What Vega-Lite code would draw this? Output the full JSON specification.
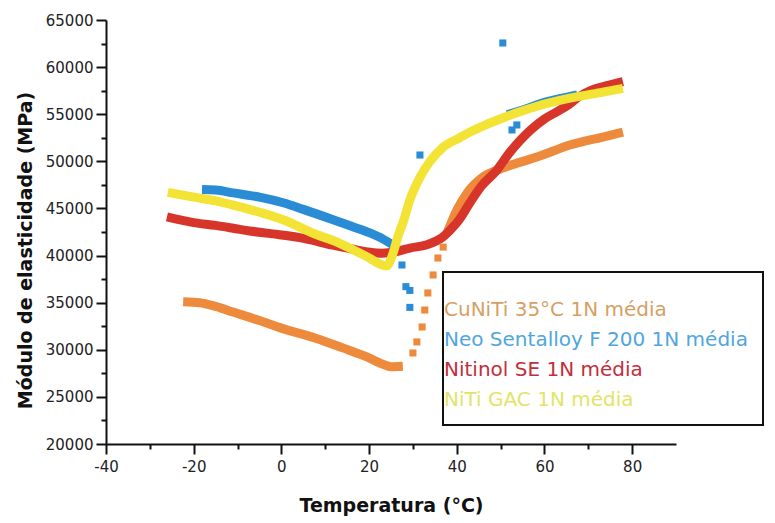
{
  "$schema": "https://vega.github.io/schema/vega-lite/v6.json",
  "width": 570,
  "height": 424,
  "autosize": {"type": "none"},
  "padding": {"left": 106, "top": 20, "right": 99, "bottom": 79},
  "background": "white",
  "config": {
    "view": {"stroke": null},
    "font": "DejaVu Sans"
  },
  "data": {
    "values": [
      {"series": "CuNiTi 35°C 1N média", "seg": "o1", "kind": "curve", "t": -22.4, "E": 35100},
      {"series": "CuNiTi 35°C 1N média", "seg": "o1", "kind": "curve", "t": -18.6, "E": 35000},
      {"series": "CuNiTi 35°C 1N média", "seg": "o1", "kind": "curve", "t": -15, "E": 34600},
      {"series": "CuNiTi 35°C 1N média", "seg": "o1", "kind": "curve", "t": -11, "E": 34000},
      {"series": "CuNiTi 35°C 1N média", "seg": "o1", "kind": "curve", "t": -5, "E": 33100},
      {"series": "CuNiTi 35°C 1N média", "seg": "o1", "kind": "curve", "t": 0, "E": 32300},
      {"series": "CuNiTi 35°C 1N média", "seg": "o1", "kind": "curve", "t": 8, "E": 31200},
      {"series": "CuNiTi 35°C 1N média", "seg": "o1", "kind": "curve", "t": 14, "E": 30200},
      {"series": "CuNiTi 35°C 1N média", "seg": "o1", "kind": "curve", "t": 19.5, "E": 29250},
      {"series": "CuNiTi 35°C 1N média", "seg": "o1", "kind": "curve", "t": 23, "E": 28500},
      {"series": "CuNiTi 35°C 1N média", "seg": "o1", "kind": "curve", "t": 25, "E": 28200},
      {"series": "CuNiTi 35°C 1N média", "seg": "o1", "kind": "curve", "t": 27.7, "E": 28250},
      {"series": "CuNiTi 35°C 1N média", "seg": "o1", "kind": "point", "t": 30, "E": 29660},
      {"series": "CuNiTi 35°C 1N média", "seg": "o1", "kind": "point", "t": 30.9, "E": 30830},
      {"series": "CuNiTi 35°C 1N média", "seg": "o1", "kind": "point", "t": 32.1, "E": 32420},
      {"series": "CuNiTi 35°C 1N média", "seg": "o1", "kind": "point", "t": 32.7, "E": 34220},
      {"series": "CuNiTi 35°C 1N média", "seg": "o1", "kind": "point", "t": 33.4, "E": 36030},
      {"series": "CuNiTi 35°C 1N média", "seg": "o1", "kind": "point", "t": 34.6, "E": 37940},
      {"series": "CuNiTi 35°C 1N média", "seg": "o1", "kind": "point", "t": 35.7, "E": 39740},
      {"series": "CuNiTi 35°C 1N média", "seg": "o1", "kind": "point", "t": 36.9, "E": 40900},
      {"series": "CuNiTi 35°C 1N média", "seg": "o2", "kind": "curve", "t": 37.8, "E": 42400},
      {"series": "CuNiTi 35°C 1N média", "seg": "o2", "kind": "curve", "t": 40, "E": 44800},
      {"series": "CuNiTi 35°C 1N média", "seg": "o2", "kind": "curve", "t": 42.3, "E": 46600},
      {"series": "CuNiTi 35°C 1N média", "seg": "o2", "kind": "curve", "t": 46, "E": 48340},
      {"series": "CuNiTi 35°C 1N média", "seg": "o2", "kind": "curve", "t": 50, "E": 49200},
      {"series": "CuNiTi 35°C 1N média", "seg": "o2", "kind": "curve", "t": 53.7, "E": 49800},
      {"series": "CuNiTi 35°C 1N média", "seg": "o2", "kind": "curve", "t": 58.3, "E": 50460},
      {"series": "CuNiTi 35°C 1N média", "seg": "o2", "kind": "curve", "t": 65.8, "E": 51730},
      {"series": "CuNiTi 35°C 1N média", "seg": "o2", "kind": "curve", "t": 73.3, "E": 52580},
      {"series": "CuNiTi 35°C 1N média", "seg": "o2", "kind": "curve", "t": 77.9, "E": 53110},

      {"series": "Neo Sentalloy F 200 1N média", "seg": "b1", "kind": "curve", "t": -18.1, "E": 47000},
      {"series": "Neo Sentalloy F 200 1N média", "seg": "b1", "kind": "curve", "t": -15, "E": 46950},
      {"series": "Neo Sentalloy F 200 1N média", "seg": "b1", "kind": "curve", "t": -11, "E": 46650},
      {"series": "Neo Sentalloy F 200 1N média", "seg": "b1", "kind": "curve", "t": -5, "E": 46200},
      {"series": "Neo Sentalloy F 200 1N média", "seg": "b1", "kind": "curve", "t": 0.4, "E": 45600},
      {"series": "Neo Sentalloy F 200 1N média", "seg": "b1", "kind": "curve", "t": 5, "E": 44900},
      {"series": "Neo Sentalloy F 200 1N média", "seg": "b1", "kind": "curve", "t": 11.8, "E": 43800},
      {"series": "Neo Sentalloy F 200 1N média", "seg": "b1", "kind": "curve", "t": 16, "E": 43100},
      {"series": "Neo Sentalloy F 200 1N média", "seg": "b1", "kind": "curve", "t": 20.2, "E": 42400},
      {"series": "Neo Sentalloy F 200 1N média", "seg": "b1", "kind": "curve", "t": 23, "E": 41800},
      {"series": "Neo Sentalloy F 200 1N média", "seg": "b1", "kind": "curve", "t": 25.5, "E": 41100},
      {"series": "Neo Sentalloy F 200 1N média", "seg": "b1", "kind": "point", "t": 27.5, "E": 39000},
      {"series": "Neo Sentalloy F 200 1N média", "seg": "b1", "kind": "point", "t": 28.4, "E": 36700},
      {"series": "Neo Sentalloy F 200 1N média", "seg": "b1", "kind": "point", "t": 29.3, "E": 36300},
      {"series": "Neo Sentalloy F 200 1N média", "seg": "b1", "kind": "point", "t": 29.3, "E": 34500},
      {"series": "Neo Sentalloy F 200 1N média", "seg": "b1", "kind": "point", "t": 31.6, "E": 50670},
      {"series": "Neo Sentalloy F 200 1N média", "seg": "b1", "kind": "point", "t": 50.5, "E": 62560},
      {"series": "Neo Sentalloy F 200 1N média", "seg": "b1", "kind": "point", "t": 52.6, "E": 53330},
      {"series": "Neo Sentalloy F 200 1N média", "seg": "b1", "kind": "point", "t": 53.7, "E": 53860},
      {"series": "Neo Sentalloy F 200 1N média", "seg": "b2", "kind": "curve", "t": 51.5, "E": 54950},
      {"series": "Neo Sentalloy F 200 1N média", "seg": "b2", "kind": "curve", "t": 55, "E": 55450},
      {"series": "Neo Sentalloy F 200 1N média", "seg": "b2", "kind": "curve", "t": 60, "E": 56250},
      {"series": "Neo Sentalloy F 200 1N média", "seg": "b2", "kind": "curve", "t": 64, "E": 56700},
      {"series": "Neo Sentalloy F 200 1N média", "seg": "b2", "kind": "curve", "t": 67.5, "E": 57050},

      {"series": "Nitinol SE 1N média", "seg": "r1", "kind": "curve", "t": -26.1, "E": 44100},
      {"series": "Nitinol SE 1N média", "seg": "r1", "kind": "curve", "t": -20, "E": 43500},
      {"series": "Nitinol SE 1N média", "seg": "r1", "kind": "curve", "t": -15, "E": 43200},
      {"series": "Nitinol SE 1N média", "seg": "r1", "kind": "curve", "t": -11, "E": 42900},
      {"series": "Nitinol SE 1N média", "seg": "r1", "kind": "curve", "t": -7.2, "E": 42600},
      {"series": "Nitinol SE 1N média", "seg": "r1", "kind": "curve", "t": -2, "E": 42300},
      {"series": "Nitinol SE 1N média", "seg": "r1", "kind": "curve", "t": 4.2, "E": 41900},
      {"series": "Nitinol SE 1N média", "seg": "r1", "kind": "curve", "t": 11.8, "E": 41100},
      {"series": "Nitinol SE 1N média", "seg": "r1", "kind": "curve", "t": 16, "E": 40700},
      {"series": "Nitinol SE 1N média", "seg": "r1", "kind": "curve", "t": 20.2, "E": 40350},
      {"series": "Nitinol SE 1N média", "seg": "r1", "kind": "curve", "t": 23, "E": 40250},
      {"series": "Nitinol SE 1N média", "seg": "r1", "kind": "curve", "t": 26, "E": 40400},
      {"series": "Nitinol SE 1N média", "seg": "r1", "kind": "curve", "t": 29.3, "E": 40800},
      {"series": "Nitinol SE 1N média", "seg": "r1", "kind": "curve", "t": 33.2, "E": 41150},
      {"series": "Nitinol SE 1N média", "seg": "r1", "kind": "curve", "t": 36.9, "E": 42000},
      {"series": "Nitinol SE 1N média", "seg": "r1", "kind": "curve", "t": 38.5, "E": 42700},
      {"series": "Nitinol SE 1N média", "seg": "r1", "kind": "curve", "t": 40.7, "E": 43900},
      {"series": "Nitinol SE 1N média", "seg": "r1", "kind": "curve", "t": 43, "E": 45600},
      {"series": "Nitinol SE 1N média", "seg": "r1", "kind": "curve", "t": 45.5, "E": 47300},
      {"series": "Nitinol SE 1N média", "seg": "r1", "kind": "curve", "t": 49.2, "E": 49100},
      {"series": "Nitinol SE 1N média", "seg": "r1", "kind": "curve", "t": 52, "E": 50900},
      {"series": "Nitinol SE 1N média", "seg": "r1", "kind": "curve", "t": 54.4, "E": 52200},
      {"series": "Nitinol SE 1N média", "seg": "r1", "kind": "curve", "t": 57, "E": 53400},
      {"series": "Nitinol SE 1N média", "seg": "r1", "kind": "curve", "t": 60, "E": 54500},
      {"series": "Nitinol SE 1N média", "seg": "r1", "kind": "curve", "t": 63, "E": 55300},
      {"series": "Nitinol SE 1N média", "seg": "r1", "kind": "curve", "t": 65.5, "E": 56000},
      {"series": "Nitinol SE 1N média", "seg": "r1", "kind": "curve", "t": 68, "E": 56900},
      {"series": "Nitinol SE 1N média", "seg": "r1", "kind": "curve", "t": 70.5, "E": 57500},
      {"series": "Nitinol SE 1N média", "seg": "r1", "kind": "curve", "t": 74, "E": 58000},
      {"series": "Nitinol SE 1N média", "seg": "r1", "kind": "curve", "t": 77.9, "E": 58450},

      {"series": "NiTi GAC 1N média", "seg": "y1", "kind": "curve", "t": -25.9, "E": 46700},
      {"series": "NiTi GAC 1N média", "seg": "y1", "kind": "curve", "t": -20, "E": 46200},
      {"series": "NiTi GAC 1N média", "seg": "y1", "kind": "curve", "t": -15, "E": 45800},
      {"series": "NiTi GAC 1N média", "seg": "y1", "kind": "curve", "t": -11, "E": 45350},
      {"series": "NiTi GAC 1N média", "seg": "y1", "kind": "curve", "t": -5, "E": 44600},
      {"series": "NiTi GAC 1N média", "seg": "y1", "kind": "curve", "t": 0.4, "E": 43800},
      {"series": "NiTi GAC 1N média", "seg": "y1", "kind": "curve", "t": 8.1, "E": 42200},
      {"series": "NiTi GAC 1N média", "seg": "y1", "kind": "curve", "t": 11.8, "E": 41600},
      {"series": "NiTi GAC 1N média", "seg": "y1", "kind": "curve", "t": 16, "E": 40700},
      {"series": "NiTi GAC 1N média", "seg": "y1", "kind": "curve", "t": 20.2, "E": 39700},
      {"series": "NiTi GAC 1N média", "seg": "y1", "kind": "curve", "t": 22, "E": 39200},
      {"series": "NiTi GAC 1N média", "seg": "y1", "kind": "curve", "t": 24, "E": 38900},
      {"series": "NiTi GAC 1N média", "seg": "y1", "kind": "curve", "t": 25.5, "E": 40300},
      {"series": "NiTi GAC 1N média", "seg": "y1", "kind": "curve", "t": 26.5, "E": 41900},
      {"series": "NiTi GAC 1N média", "seg": "y1", "kind": "curve", "t": 27.7, "E": 43450},
      {"series": "NiTi GAC 1N média", "seg": "y1", "kind": "curve", "t": 29.3, "E": 45900},
      {"series": "NiTi GAC 1N média", "seg": "y1", "kind": "curve", "t": 31.6, "E": 48300},
      {"series": "NiTi GAC 1N média", "seg": "y1", "kind": "curve", "t": 33.9, "E": 50000},
      {"series": "NiTi GAC 1N média", "seg": "y1", "kind": "curve", "t": 36.9, "E": 51500},
      {"series": "NiTi GAC 1N média", "seg": "y1", "kind": "curve", "t": 40.7, "E": 52500},
      {"series": "NiTi GAC 1N média", "seg": "y1", "kind": "curve", "t": 43, "E": 53100},
      {"series": "NiTi GAC 1N média", "seg": "y1", "kind": "curve", "t": 46, "E": 53750},
      {"series": "NiTi GAC 1N média", "seg": "y1", "kind": "curve", "t": 50.5, "E": 54600},
      {"series": "NiTi GAC 1N média", "seg": "y1", "kind": "curve", "t": 54, "E": 55200},
      {"series": "NiTi GAC 1N média", "seg": "y1", "kind": "curve", "t": 58.3, "E": 55850},
      {"series": "NiTi GAC 1N média", "seg": "y1", "kind": "curve", "t": 65.8, "E": 56700},
      {"series": "NiTi GAC 1N média", "seg": "y1", "kind": "curve", "t": 73.3, "E": 57350},
      {"series": "NiTi GAC 1N média", "seg": "y1", "kind": "curve", "t": 77.9, "E": 57750}
    ]
  },
  "encoding": {
    "x": {
      "field": "t", "type": "quantitative",
      "scale": {"domain": [-40, 90], "nice": false, "zero": false},
      "axis": {
        "title": "Temperatura (°C)",
        "values": [-40, -30, -20, -10, 0, 10, 20, 30, 40, 50, 60, 70, 80],
        "labelExpr": "datum.value % 20 === 0 ? toString(datum.value) : ''",
        "grid": false,
        "domainColor": "#111", "domainWidth": 2,
        "tickColor": "#111", "tickWidth": 2,
        "tickSize": {"condition": {"test": "datum.value % 20 === 0", "value": 10}, "value": 5},
        "labelFontSize": 15, "labelColor": "#222", "labelPadding": 5, "labelFlush": false,
        "titleFontSize": 19, "titleFontWeight": "bold", "titleColor": "#111",
        "titleY": 61, "titleBaseline": "middle"
      }
    },
    "y": {
      "field": "E", "type": "quantitative",
      "scale": {"domain": [20000, 65000], "nice": false, "zero": false},
      "axis": {
        "title": "Módulo de elasticidade (MPa)",
        "values": [20000, 22500, 25000, 27500, 30000, 32500, 35000, 37500, 40000, 42500, 45000, 47500, 50000, 52500, 55000, 57500, 60000, 62500, 65000],
        "labelExpr": "datum.value % 5000 === 0 ? toString(datum.value) : ''",
        "grid": false,
        "domainColor": "#111", "domainWidth": 2,
        "tickColor": "#111", "tickWidth": 2,
        "tickSize": {"condition": {"test": "datum.value % 5000 === 0", "value": 10}, "value": 5},
        "labelFontSize": 15, "labelColor": "#222", "labelPadding": 3, "labelFlush": false,
        "titleFontSize": 19, "titleFontWeight": "bold", "titleColor": "#111",
        "titleX": -81, "titleY": 230, "titleAngle": -90, "titleBaseline": "middle", "titleAlign": "center"
      }
    },
    "color": {
      "field": "series", "type": "nominal",
      "scale": {
        "domain": ["CuNiTi 35°C 1N média", "Neo Sentalloy F 200 1N média", "Nitinol SE 1N média", "NiTi GAC 1N média"],
        "range": ["#EE8A3C", "#2B8CD6", "#D8352A", "#F2E335"]
      },
      "legend": {
        "orient": "none", "legendX": 337, "legendY": 252,
        "title": " ", "titleFontSize": 6, "titlePadding": 7,
        "padding": 15, "rowPadding": 10,
        "strokeColor": "#111", "fillColor": "white",
        "symbolSize": 0, "symbolStrokeWidth": 0, "symbolOpacity": 0, "labelOffset": -34,
        "labelFontSize": 20, "labelFont": "DejaVu Sans", "labelLimit": 400,
        "labelExpr": "datum.label + '  '",
        "encode": {
          "labels": {
            "update": {
              "fill": {"signal": "datum.value === 'CuNiTi 35°C 1N média' ? '#D6A064' : datum.value === 'Neo Sentalloy F 200 1N média' ? '#4FA6DE' : datum.value === 'Nitinol SE 1N média' ? '#C42E3A' : '#E2E466'"}
            }
          },
          "legend": {
            "update": {"strokeWidth": {"value": 2}}
          }
        }
      }
    }
  },
  "layer": [
    {
      "transform": [{"filter": "datum.kind === 'curve'"}],
      "mark": {"type": "line", "strokeWidth": 9, "strokeCap": "butt", "interpolate": "monotone"},
      "encoding": {"detail": {"field": "seg"}}
    },
    {
      "transform": [{"filter": "datum.kind === 'point'"}],
      "mark": {"type": "point", "shape": "square", "filled": true, "opacity": 1, "size": 50},
      "encoding": {}
    }
  ]
}
